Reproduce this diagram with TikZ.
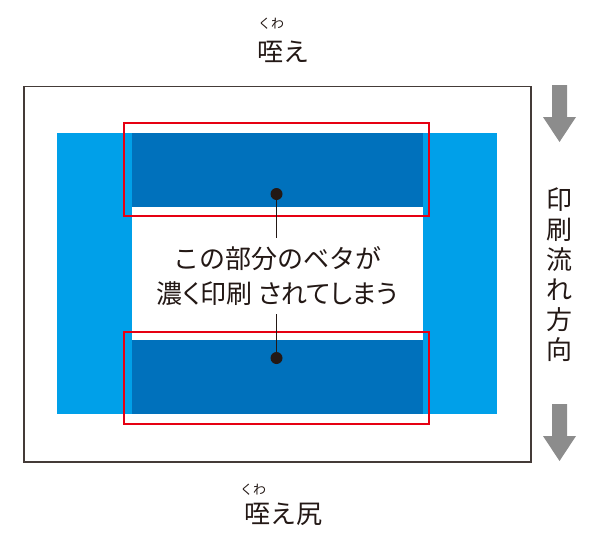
\documentclass[tikz,border=0pt]{standalone}
\usepackage{fontspec}
\newfontfamily\jp{Noto Sans CJK JP}
\newfontfamily\jpp[RawFeature=+palt]{Noto Sans CJK JP}
\definecolor{lblue}{HTML}{00A0E9}
\definecolor{dblue}{HTML}{0071BC}
\definecolor{redline}{HTML}{E60012}
\definecolor{arrowgray}{HTML}{8C8C8C}
\definecolor{ink}{HTML}{231815}
\tikzset{
  paper/.style={draw=ink!85, line width=1.3pt},
  redbox/.style={draw=redline, line width=2pt},
  dotmark/.style={circle, fill=ink, inner sep=0pt, minimum size=12pt},
  leader/.style={draw=ink, line width=1pt},
  flowarrow/.style={fill=arrowgray},
  bigtext/.style={text=ink, font=\jp\fontsize{26}{35}\selectfont, align=center, inner sep=0pt},
  vtext/.style={text=ink, font=\jp\fontsize{26}{30}\selectfont, align=center, inner sep=0pt},
  rubytext/.style={text=ink, font=\jp\fontsize{13}{13}\selectfont, inner sep=0pt}
}
\begin{document}
\begin{tikzpicture}[x=1pt,y=-1pt]
\useasboundingbox (0,0) rectangle (594,550);
% paper
\draw[paper] (24,86.5) rectangle (531,462);
% print area
\fill[lblue] (57,133) rectangle (497,414);
\fill[white] (132,207) rectangle (423,340);
\fill[dblue] (132,133) rectangle (423,207);
\fill[dblue] (132,340) rectangle (423,414);
% red frames
\draw[redbox] (123.5,123) rectangle (429,216);
\draw[redbox] (123.5,332) rectangle (429,424);
% dots and label
\node[dotmark] (d1) at (276.5,194) {};
\node[dotmark] (d2) at (276.5,358) {};
\node[bigtext] (msg) at (277.5,276) {この部分のベタが\\{\jpp 濃く印刷 されてしまう}};
\coordinate (t1) at (276.5,238);
\coordinate (t2) at (276.5,314);
\draw[leader] (d1) -- (t1);
\draw[leader] (t2) -- (d2);
% top / bottom labels
\node[rubytext] (r1) at (271,24) {くわ};
\node[bigtext] (top) at (283,52) {咥え};
\node[rubytext] (r2) at (253,490) {くわ};
\node[bigtext] (bot) at (283,514) {咥え尻};
% flow arrows
\fill[flowarrow] (552,85) -- (567,85) -- (567,117) -- (576,117) -- (559.5,142) -- (543,117) -- (552,117) -- cycle;
\fill[flowarrow] (552,404) -- (567,404) -- (567,436) -- (576,436) -- (559.5,461) -- (543,436) -- (552,436) -- cycle;
\node[vtext] (flow) at (559.5,275) {印\\刷\\流\\れ\\方\\向};
\end{tikzpicture}
\end{document}
